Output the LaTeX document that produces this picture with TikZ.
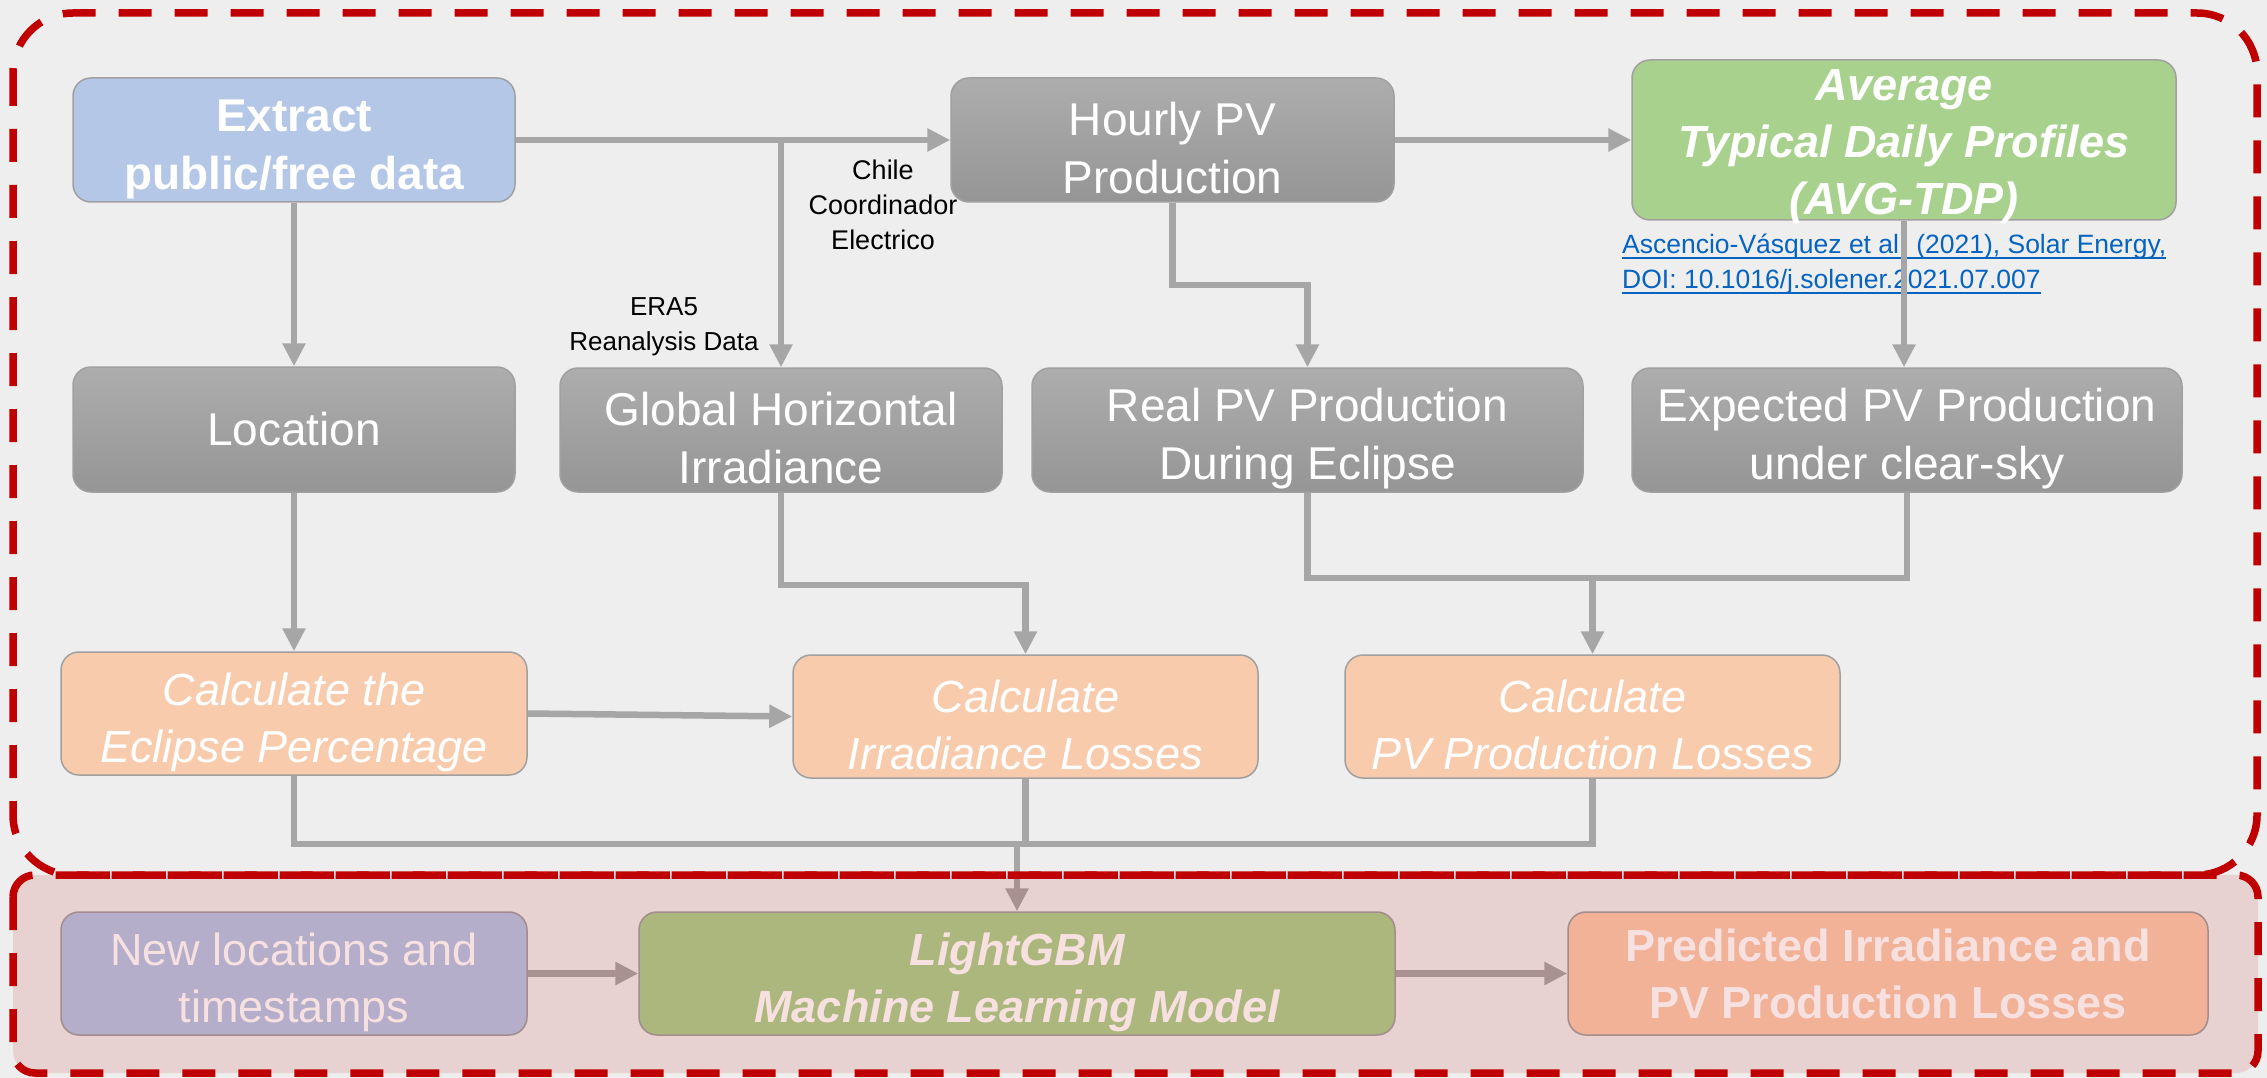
\documentclass[tikz,border=0pt]{standalone}
\usepackage{fontspec}
\setmainfont{Liberation Sans}
\usetikzlibrary{arrows.meta,calc}
\definecolor{bg}{HTML}{EEEEEE}
\definecolor{dashred}{HTML}{C00000}
\definecolor{bluebox}{HTML}{B4C7E7}
\definecolor{greenbox}{HTML}{A9D18E}
\definecolor{orangebox}{HTML}{F8CBAD}
\definecolor{graytop}{HTML}{ADADAD}
\definecolor{graybot}{HTML}{959595}
\definecolor{conncol}{HTML}{A6A6A6}
\definecolor{boxline}{HTML}{A0A0A0}
\definecolor{linkblue}{HTML}{0563C1}
\newcommand\topstrutx{\rule{0pt}{50pt}}
\begin{document}
\begin{tikzpicture}[x=1pt,y=-1pt,
  box/.style={rounded corners=18pt, draw=boxline, line width=1.5pt, text=white, align=center, inner sep=0pt},
  graybox/.style={box, top color=graytop, bottom color=graybot},
  bluefill/.style={box, fill=bluebox},
  greenfill/.style={box, fill=greenbox},
  orangefill/.style={box, fill=orangebox},
  big/.style={font=\fontsize{46}{58}\selectfont},
  bigb/.style={font=\fontsize{46}{58}\selectfont\bfseries},
  bigbi/.style={font=\fontsize{45}{57}\selectfont\bfseries\itshape},
  bigi/.style={font=\fontsize{45}{57}\selectfont\itshape},
  small/.style={font=\fontsize{26}{35}\selectfont, align=center, inner sep=0pt, text=black},
  citefont/.style={font=\fontsize{26.5}{35}\selectfont, text=linkblue, inner sep=0pt, anchor=base west},
  conn/.style={draw=conncol, line width=6.5pt},
  arr/.style={conn, -{Triangle[length=23pt,width=22pt]}},
  regionline/.style={draw=dashred, line width=7.5pt, dash pattern=on 33pt off 23pt}
]
\useasboundingbox (0,0) rectangle (2267,1078);
\fill[bg] (0,0) rectangle (2267,1078);

% top row
\node[bluefill, bigb, minimum width=442pt, minimum height=124pt] (extract) at (294,140) {\topstrutx Extract\\public/free data};
\node[graybox, big, minimum width=443pt, minimum height=124pt] (hourly) at (1172.5,140) {\topstrutx Hourly PV\\Production};
\node[greenfill, minimum width=544pt, minimum height=160pt] (avg) at (1904,140) {};
\node[bigbi, text=white, align=center, inner sep=0pt] (avgtext) at (1904,147) {Average\\Typical Daily Profiles\\(AVG-TDP)};

% citation
\node[citefont] (cite1) at (1622,253) {Ascencio-Vásquez et al. (2021), Solar Energy,};
\node[citefont] (cite2) at (1622,288) {DOI: 10.1016/j.solener.2021.07.007};
\draw[linkblue, line width=2.5pt] ($(cite1.base west)+(0,5)$) -- ($(cite1.base east)+(0,5)$);
\draw[linkblue, line width=2.5pt] ($(cite2.base west)+(0,5)$) -- ($(cite2.base east)+(0,5)$);

% second row
\node[graybox, big, minimum width=442pt, minimum height=125pt] (loc) at (294,429.5) {Location};
\node[graybox, big, minimum width=442pt, minimum height=124pt] (ghi) at (781,430) {\topstrutx Global Horizontal\\Irradiance};
\node[graybox, big, minimum width=551pt, minimum height=124pt] (real) at (1307.5,430) {\topstrutx Real PV Production\\During Eclipse};
\node[graybox, big, minimum width=550pt, minimum height=124pt] (expected) at (1907,430) {\topstrutx Expected PV Production\\under clear-sky};

% third row
\node[orangefill, bigi, minimum width=466pt, minimum height=123pt] (eclipse) at (294,713.5) {\topstrutx Calculate the\\Eclipse Percentage};
\node[orangefill, bigi, minimum width=465pt, minimum height=123pt] (irrloss) at (1025.5,716.5) {\topstrutx Calculate\\Irradiance Losses};
\node[orangefill, bigi, minimum width=495pt, minimum height=123pt] (pvloss) at (1592.5,716.5) {\topstrutx Calculate\\PV Production Losses};

% labels
\node[small] (era) at (664,327) {ERA5\\Reanalysis Data};
\node[small, font=\fontsize{27}{35}\selectfont] (chile) at (883,205) {Chile\\Coordinador\\Electrico};

% bottom row
\node[bluefill, big, font=\fontsize{45}{57}\selectfont, minimum width=466pt, minimum height=123pt] (newloc) at (294,973.5) {\topstrutx New locations and\\timestamps};
\node[greenfill, bigbi, minimum width=756pt, minimum height=123pt] (lgbm) at (1017,973.5) {\topstrutx LightGBM\\Machine Learning Model};
\node[orangefill, font=\fontsize{45}{57}\selectfont\bfseries, minimum width=640pt, minimum height=123pt] (pred) at (1888,973.5) {Predicted Irradiance and\\PV Production Losses};

% coordinates
\coordinate (branch) at (781,140);
\coordinate (e1) at (1307.5,285);
\coordinate (e2) at (1025.5,585);
\coordinate (e3) at (1592.5,578);
\coordinate (e4) at (1017,844);

% connectors
\draw[arr] (extract.east) -- (hourly.west);
\draw[arr] (branch) -- (ghi.north);
\draw[arr] (hourly.east) -- (avg.west);
\draw[arr] (extract.south) -- (loc.north);
\draw[arr] (hourly.south) |- (e1) -- (real.north);
\draw[arr] (avg.south) -- (avg.south |- expected.north);
\draw[arr] (loc.south) -- (eclipse.north);
\draw[arr] (ghi.south) |- (e2) -- (irrloss.north);
\draw[conn] (real.south) |- (e3) -| (expected.south);
\draw[arr] (e3) -- (pvloss.north);
\draw[arr] (eclipse.east) -- (irrloss.west);
\draw[conn] (eclipse.south) |- (e4) -| (pvloss.south);
\draw[conn] (irrloss.south) -- (irrloss.south |- e4);
\draw[arr] (e4) -- (lgbm.north);
\draw[arr] (newloc.east) -- (lgbm.west);
\draw[arr] (lgbm.east) -- (pred.west);

% bottom region overlay
\fill[dashred, opacity=0.12, rounded corners=22pt] (13,875) rectangle (2258,1073);

% region borders
\draw[regionline, rounded corners=60pt] (13,13) rectangle (2257,875);
\draw[regionline, rounded corners=22pt] (13,875) rectangle (2258,1073);
\end{tikzpicture}
\end{document}
